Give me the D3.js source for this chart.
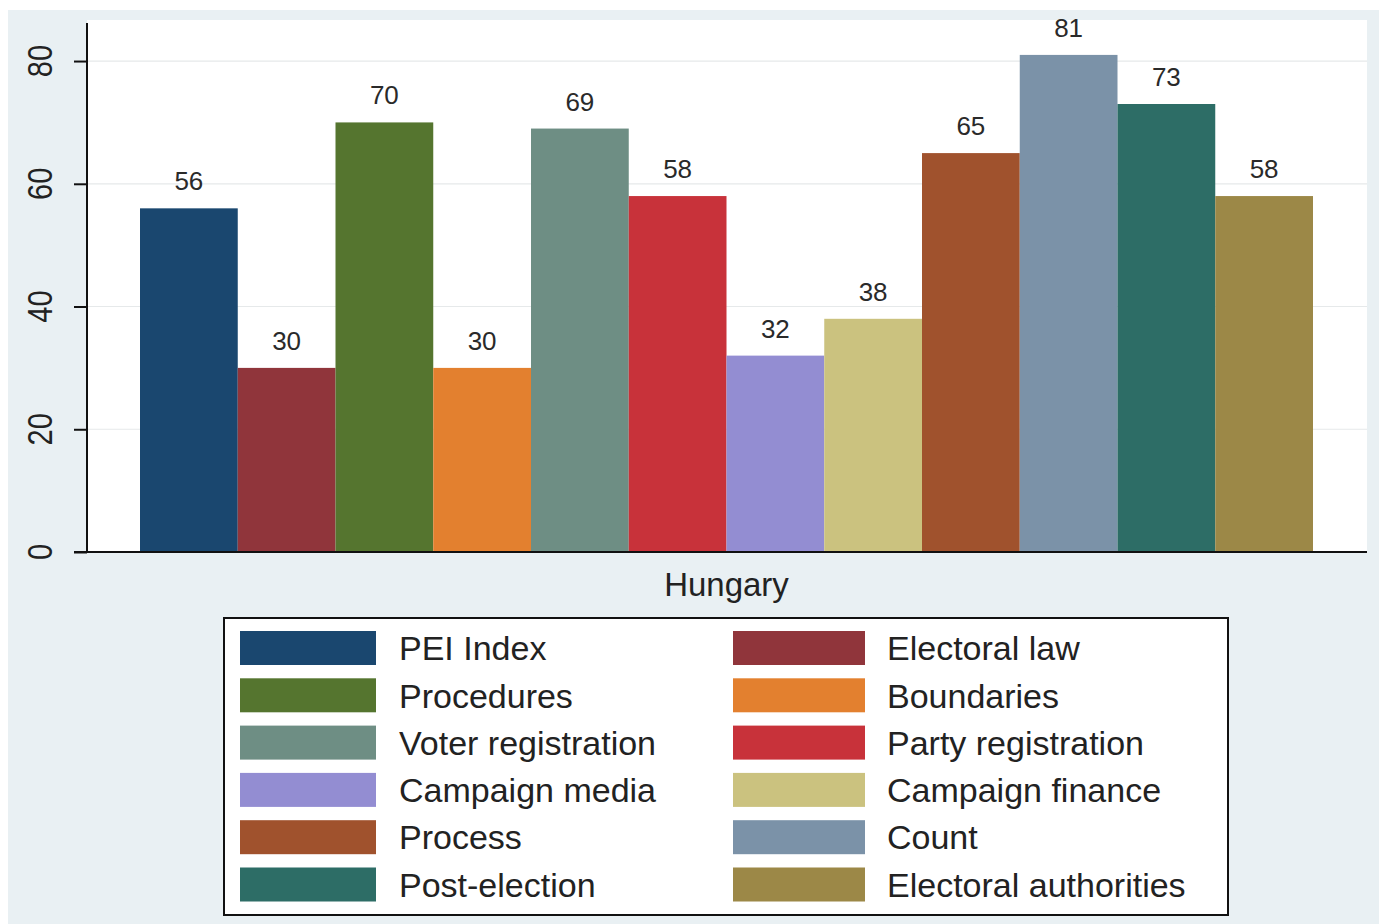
<!DOCTYPE html>
<html>
<head>
<meta charset="utf-8">
<script src="https://cdn.jsdelivr.net/npm/d3@7"></script>
<style>
  html, body { margin: 0; padding: 0; background: #ffffff; }
  svg { display: block; font-family: "Liberation Sans", Arial, Helvetica, sans-serif; }
</style>
</head>
<body>
<svg id="chart" width="1379" height="924"></svg>
<script>
// PEI sub-dimension scores for Hungary
const country = "Hungary";
const series = [
  "PEI Index", "Electoral law", "Procedures", "Boundaries",
  "Voter registration", "Party registration", "Campaign media", "Campaign finance",
  "Process", "Count", "Post-election", "Electoral authorities"
];
const values = [56, 30, 70, 30, 69, 58, 32, 38, 65, 81, 73, 58];
const colors = [
  "#1a476f", "#90353b", "#55752f", "#e3802f",
  "#6e8e84", "#c8323a", "#938dd2", "#cbc27f",
  "#a0522d", "#7b92a8", "#2d6d66", "#9c8847"
];
const yTicks = [0, 20, 40, 60, 80];

const svg = d3.select("#chart");

// graph region
svg.append("rect")
  .attr("x", 8).attr("y", 10).attr("width", 1371).attr("height", 914)
  .attr("fill", "#e9f0f3");

// plot region
const plot = { left: 87, right: 1367, top: 20, bottom: 552 };
svg.append("rect")
  .attr("x", plot.left).attr("y", plot.top)
  .attr("width", plot.right - plot.left).attr("height", plot.bottom - plot.top)
  .attr("fill", "#ffffff");

const y = d3.scaleLinear().domain([0, 86.2]).range([plot.bottom, 23]);
const x = d3.scaleBand().domain(series).range([140, 1313]).padding(0);

// horizontal grid lines
svg.append("g")
  .selectAll("line")
  .data(yTicks.filter(t => t > 0))
  .join("line")
  .attr("x1", plot.left + 1).attr("x2", plot.right)
  .attr("y1", d => y(d)).attr("y2", d => y(d))
  .attr("stroke", "#e6e9ea").attr("stroke-width", 1.2);

// bars
svg.append("g")
  .selectAll("rect")
  .data(series)
  .join("rect")
  .attr("x", d => x(d))
  .attr("width", x.bandwidth())
  .attr("y", (d, i) => y(values[i]))
  .attr("height", (d, i) => y(0) - y(values[i]))
  .attr("fill", (d, i) => colors[i]);

// value labels
svg.append("g")
  .selectAll("text")
  .data(series)
  .join("text")
  .attr("x", d => x(d) + x.bandwidth() / 2)
  .attr("y", (d, i) => y(values[i]) - 18)
  .attr("text-anchor", "middle")
  .attr("font-size", 26)
  .attr("fill", "#2a2a2a")
  .text((d, i) => d3.format("d")(values[i]));

// y axis
const yAxis = d3.axisLeft(y).tickValues(yTicks).tickSize(13).tickFormat("");
const gy = svg.append("g").attr("transform", `translate(${plot.left},0)`).call(yAxis);
gy.select(".domain").attr("stroke", "#111").attr("stroke-width", 2)
  .attr("d", `M0,${y.range()[1]}V${plot.bottom}`);
gy.selectAll(".tick line").attr("stroke", "#111").attr("stroke-width", 2);

// rotated tick labels
svg.append("g")
  .selectAll("text")
  .data(yTicks)
  .join("text")
  .attr("transform", d => `translate(40,${y(d)}) rotate(-90) scale(1,1.2)`)
  .attr("text-anchor", "middle")
  .attr("dy", "0.35em")
  .attr("font-size", 29)
  .attr("fill", "#222")
  .text(d => d);

// x axis line
svg.append("line")
  .attr("x1", plot.left - 13).attr("x2", plot.right)
  .attr("y1", plot.bottom).attr("y2", plot.bottom)
  .attr("stroke", "#111").attr("stroke-width", 2);

// category label
svg.append("text")
  .attr("x", (140 + 1313) / 2)
  .attr("y", 596)
  .attr("text-anchor", "middle")
  .attr("font-size", 33)
  .attr("fill", "#222")
  .text(country);

// legend
const legend = svg.append("g");
legend.append("rect")
  .attr("x", 224).attr("y", 618).attr("width", 1004).attr("height", 297)
  .attr("fill", "#ffffff").attr("stroke", "#111").attr("stroke-width", 2);

const legendCols = [
  { sx: 240, sw: 136, tx: 399 },
  { sx: 733, sw: 132, tx: 887 }
];
const legendRow = d3.scaleLinear().domain([0, 1]).range([631, 678.3]);

const items = legend.selectAll("g.item")
  .data(series)
  .join("g")
  .attr("class", "item")
  .attr("transform", (d, i) => `translate(0,${legendRow(Math.floor(i / 2))})`);

items.append("rect")
  .attr("x", (d, i) => legendCols[i % 2].sx)
  .attr("width", (d, i) => legendCols[i % 2].sw)
  .attr("height", 34)
  .attr("fill", (d, i) => colors[i]);

items.append("text")
  .attr("x", (d, i) => legendCols[i % 2].tx)
  .attr("y", 17)
  .attr("dy", "0.36em")
  .attr("font-size", 34)
  .attr("fill", "#222")
  .text(d => d);
</script>
</body>
</html>
